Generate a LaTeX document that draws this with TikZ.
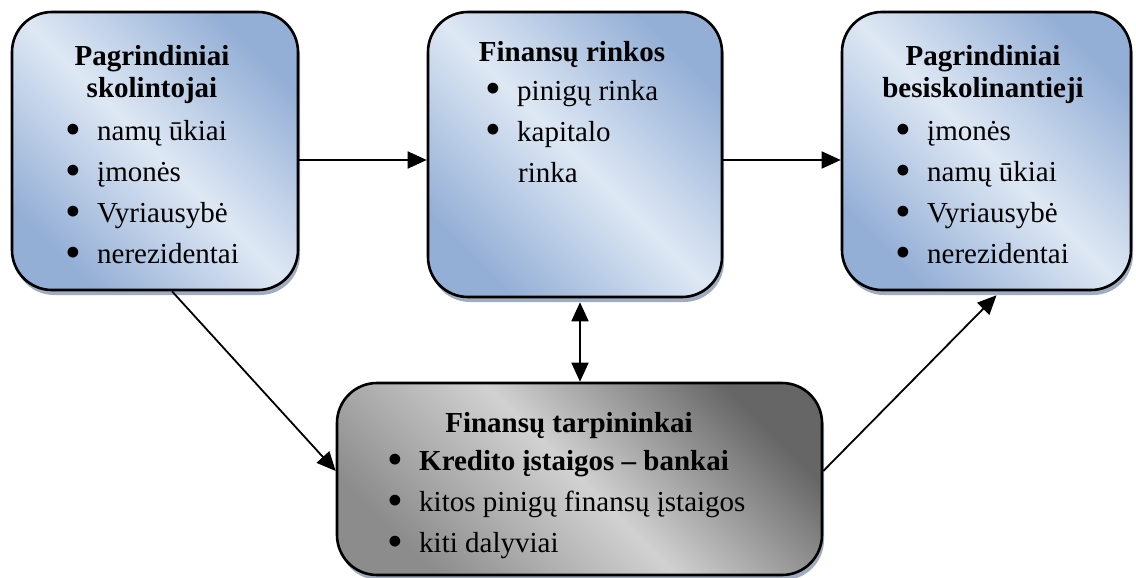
\documentclass[tikz,border=0pt]{standalone}
\usepackage{fontspec}
\setmainfont{Liberation Serif}
\usetikzlibrary{arrows.meta,shadows}
\definecolor{bluedark}{RGB}{148,175,214}
\definecolor{bluelight}{RGB}{222,232,244}
\definecolor{shadowc}{RGB}{160,172,192}
\newcommand{\itm}[1]{\makebox[32pt][l]{\raisebox{-4pt}{\scalebox{1.55}{•}}}#1}

\tikzset{
  box/.style={draw, line width=2.6pt, rounded corners=40pt,
    drop shadow={shadow xshift=2pt, shadow yshift=-5pt, fill=shadowc, opacity=1}},
  bluebox/.style={box, shading=axis, top color=bluedark, bottom color=bluedark,
    middle color=bluelight, shading angle=-45},
  greybox/.style={box, shading=axis, top color=black!60, bottom color=black!45,
    middle color=black!18, shading angle=-45},
  head/.style={font=\fontsize{29}{32}\selectfont\bfseries, anchor=base, inner sep=0pt},
  item/.style={anchor=base west, inner sep=0pt},
  arr/.style={line width=1.8pt, -{Triangle[length=19pt,width=17pt]}},
  arrb/.style={line width=1.8pt, {Triangle[length=19pt,width=17pt]}-{Triangle[length=19pt,width=17pt]}},
}

\begin{document}
\begin{tikzpicture}[x=1pt, y=-1pt, font=\fontsize{29}{41}\selectfont]
  \useasboundingbox (0,0) rectangle (1136,578);

  % boxes
  \node[bluebox, minimum width=286pt, minimum height=278pt] (skol) at (155,151) {};
  \node[bluebox, minimum width=294pt, minimum height=285pt] (rink) at (575,154.5) {};
  \node[bluebox, minimum width=289pt, minimum height=278pt] (besk) at (986.5,151) {};
  \node[greybox, minimum width=485pt, minimum height=192pt] (tarp) at (579.5,479) {};

  % pagrindiniai skolintojai
  \node[head, align=center] (skolh) at (152,97) {Pagrindiniai\\skolintojai};
  \foreach \t [count=\i] in {namų ūkiai, įmonės, Vyriausybė, nerezidentai}
    \node[item] (skol\i) at (65, 99+41*\i) {\itm{\t}};

  % finansu rinkos
  \node[head] (rinkh) at (572,62) {Finansų rinkos};
  \foreach \t [count=\i] in {pinigų rinka, kapitalo}
    \node[item] (rink\i) at (485, 59+41*\i) {\itm{\t}};
  \node[item] (rink3) at (518,182) {rinka};

  % pagrindiniai besiskolinantieji
  \node[head, align=center] (beskh) at (983,97) {Pagrindiniai\\besiskolinantieji};
  \foreach \t [count=\i] in {įmonės, namų ūkiai, Vyriausybė, nerezidentai}
    \node[item] (besk\i) at (895, 99+41*\i) {\itm{\t}};

  % finansu tarpininkai
  \node[head] (tarph) at (569,432) {Finansų tarpininkai};
  \foreach \t [count=\i] in {\textbf{Kredito įstaigos – bankai}, kitos pinigų finansų įstaigos, kiti dalyviai}
    \node[item] (tarp\i) at (387, 429+41*\i) {\itm{\t}};

  % arrows
  \draw[arr] (skol.east |- 0,160) -- (rink.west |- 0,160);
  \draw[arr] (rink.east |- 0,160) -- (besk.west |- 0,160);
  \draw[arrb] ([xshift=5pt,yshift=-4pt]rink.south) -- ([xshift=5pt]rink.south |- tarp.north);
  \draw[arr] ([xshift=17pt]skol.south) -- ([yshift=8pt]tarp.west);
  \draw[arr] ([yshift=8pt]tarp.east) -- ([xshift=10pt,yshift=-4pt]besk.south);
\end{tikzpicture}
\end{document}
